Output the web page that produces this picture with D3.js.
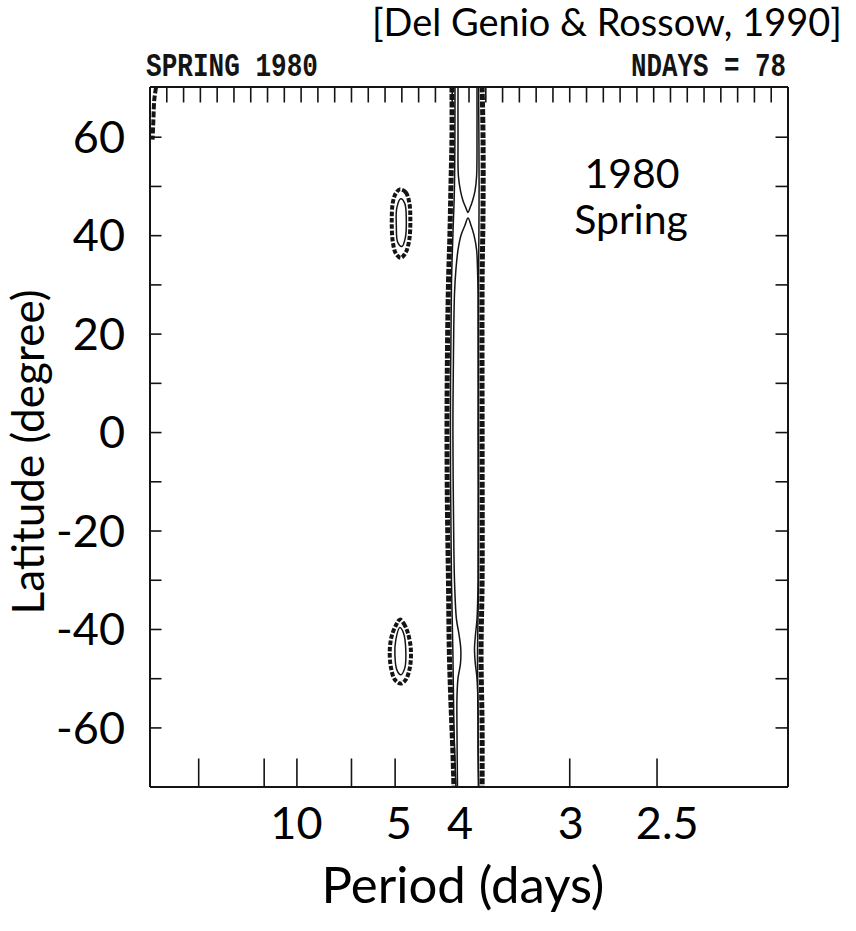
<!DOCTYPE html>
<html>
<head>
<meta charset="utf-8">
<script src="https://cdn.jsdelivr.net/npm/d3@7"></script>
<style>
  html, body { margin: 0; padding: 0; background: #fff; }
  svg { display: block; }
</style>
</head>
<body>
<svg id="chart" width="856" height="931"></svg>
<script>
// ---------------- DATA ----------------
// x axis is frequency (cycles/day); record length 78 days
const nDays = 78;
const freqDomain = [1 / 78, 0.5];
const latDomain = [-72, 70.2];

// small top tick marks: every frequency bin k/78
const binIndex = d3.range(2, 39);
// bottom tick marks (periods, days)
const periodTicks = [20, 10, 8, 6, 5, 3, 2.5];
// big period labels and the periods under which they are written
const periodLabels = ["10", "5", "4", "3", "2.5"];
const periodLabelAt = [8, 4.92, 4.0, 2.99, 2.45];
// latitude ticks
const latTicks = [60, 50, 40, 30, 20, 10, 0, -10, -20, -30, -40, -50, -60];
const latLabels = [60, 40, 20, 0, -20, -40, -60];

// contour lines: [frequency (cycles/day), latitude (deg)]
// outer (dashed) contour of the ~4-day ridge, west and east flanks
const ridgeOuterWest = [[0.2438,70.2],[0.2438,60],[0.2430,50],[0.2422,40],[0.2411,30],[0.2403,15],[0.2400,0],[0.2403,-15],[0.2411,-30],[0.2418,-45],[0.2430,-55],[0.2445,-65],[0.2453,-72]];
const ridgeOuterEast = [[0.2668,70.2],[0.2675,60],[0.2675,45],[0.2668,30],[0.2668,0],[0.2668,-30],[0.2660,-45],[0.2668,-60],[0.2668,-72]];
// second (solid) contour
const ridgeMidWest = [[0.2461,70.2],[0.2457,50],[0.2445,40],[0.2434,30],[0.2426,0],[0.2434,-30],[0.2445,-45],[0.2453,-60],[0.2468,-72]];
const ridgeMidEast = [[0.2641,70.2],[0.2645,50],[0.2641,30],[0.2641,0],[0.2641,-30],[0.2633,-45],[0.2637,-60],[0.2641,-72]];
// innermost contour: northern lobe (open at top) and main lobe (open at bottom)
const ridgeInnerNorth = [[0.2484,70.2],[0.2484,60],[0.2487,52],[0.2503,49],[0.2522,47],[0.2545,45.5],[0.2560,44.6],[0.2575,45.5],[0.2595,47],[0.2614,49],[0.2626,52],[0.2629,60],[0.2629,70.2]];
const ridgeInnerMain = [[0.2480,-72],[0.2476,-60],[0.2476,-54],[0.2484,-50],[0.2503,-47],[0.2505,-44],[0.2491,-41],[0.2472,-38],[0.2457,-30],[0.2449,-15],[0.2445,0],[0.2449,15],[0.2457,28],[0.2468,33],[0.2484,37],[0.2507,40],[0.2537,42],[0.2560,43.5],[0.2583,42],[0.2606,40],[0.2626,37],[0.2633,33],[0.2637,28],[0.2637,0],[0.2637,-30],[0.2629,-38],[0.2618,-41],[0.2610,-44],[0.2616,-47],[0.2629,-50],[0.2637,-55],[0.2637,-65],[0.2641,-72]];
// dashed fragment in the north-west corner
const cornerWest = [[0.0178,70.0],[0.0165,67.6],[0.0158,63.5],[0.0152,59.4]];
// ~5-day closed cells near 43N and 45S
const northCellOuter = [[0.2040,49.3],[0.2085,48.7],[0.2112,46.6],[0.2120,43.2],[0.2112,39.1],[0.2085,36.5],[0.2047,35.4],[0.2009,36.3],[0.1986,38.7],[0.1978,42.8],[0.1986,46.6],[0.2009,48.5]];
const northCellInner = [[0.2047,47.4],[0.2078,46.4],[0.2089,43.2],[0.2082,39.5],[0.2055,37.7],[0.2024,38.5],[0.2013,42.0],[0.2017,45.6]];
const southCellOuter = [[0.2040,-38.1],[0.2070,-38.9],[0.2101,-40.8],[0.2124,-44.2],[0.2116,-47.9],[0.2085,-50.3],[0.2047,-51.1],[0.2002,-50.3],[0.1971,-47.7],[0.1963,-44.2],[0.1978,-41.4],[0.2009,-39.3]];
const southCellInner = [[0.2040,-39.7],[0.2070,-41.0],[0.2085,-44.2],[0.2078,-47.9],[0.2047,-49.3],[0.2017,-48.3],[0.2002,-45.2],[0.2009,-42.2]];

// ---------------- DRAWING ----------------
const svg = d3.select("#chart");
const ink = "#141414";

const x = d3.scaleLinear().domain(freqDomain).range([149.5, 787.5]);
const y = d3.scaleLinear().domain(latDomain).range([786.5, 86.5]);

const g = svg.append("g");

// axes (inward ticks), drawn through the scales
const axTop = g.append("g").attr("transform", `translate(0,${y(latDomain[1])})`)
  .call(d3.axisTop(x).tickValues(binIndex.map(k => k / nDays)).tickSize(-16).tickSizeOuter(0).tickFormat(""));
const axBottom = g.append("g").attr("transform", `translate(0,${y(latDomain[0])})`)
  .call(d3.axisBottom(x).tickValues(periodTicks.map(p => 1 / p)).tickSize(-28).tickSizeOuter(0).tickFormat(""));
const axLeft = g.append("g").attr("transform", `translate(${x(freqDomain[0])},0)`)
  .call(d3.axisLeft(y).tickValues(latTicks).tickSize(-12).tickSizeOuter(0).tickFormat(""));
const axRight = g.append("g").attr("transform", `translate(${x(freqDomain[1])},0)`)
  .call(d3.axisRight(y).tickValues(latTicks).tickSize(-12).tickSizeOuter(0).tickFormat(""));
[axTop, axBottom, axLeft, axRight].forEach(a => {
  a.selectAll("path.domain").attr("stroke", ink).attr("stroke-width", 2);
  a.selectAll(".tick line").attr("stroke", ink).attr("stroke-width", 1.6);
});

// contours
const line = d3.line().x(d => x(d[0])).y(d => y(d[1])).curve(d3.curveCatmullRom.alpha(0.5));
const closed = d3.line().x(d => x(d[0])).y(d => y(d[1])).curve(d3.curveCatmullRomClosed.alpha(0.5));

const dashed = { "stroke-width": 5, "stroke-dasharray": "6,1.6" };
const cellDashed = { "stroke-width": 4, "stroke-dasharray": "4.5,1.8" };
const solid = { "stroke-width": 1.5, "stroke-dasharray": null };

function draw(data, gen, style) {
  const p = g.append("path").attr("d", gen(data)).attr("fill", "none")
    .attr("stroke", ink).attr("stroke-linejoin", "round");
  Object.entries(style).forEach(([k, v]) => { if (v !== null) p.attr(k, v); });
}
draw(ridgeOuterWest, line, dashed);
draw(ridgeOuterEast, line, dashed);
draw(ridgeMidWest, line, solid);
draw(ridgeMidEast, line, solid);
draw(ridgeInnerNorth, line, solid);
draw(ridgeInnerMain, line, solid);
draw(cornerWest, line, { "stroke-width": 4, "stroke-dasharray": "6,2" });
draw(northCellOuter, closed, cellDashed);
draw(northCellInner, closed, solid);
draw(southCellOuter, closed, cellDashed);
draw(southCellInner, closed, solid);

// ---------------- TEXT ----------------
const sans = "Lato, 'Open Sans', sans-serif";
const mono = "'Liberation Mono', 'DejaVu Sans Mono', monospace";

function fitWidth(sel, w) {
  const fs = +sel.attr("font-size");
  const len = sel.node().getComputedTextLength();
  if (len > 0) sel.attr("font-size", fs * w / len);
  return sel;
}

// citation
fitWidth(svg.append("text").attr("x", 372).attr("y", 36).attr("font-family", sans).attr("font-size", 30)
  .attr("fill", "#000").text("[Del Genio & Rossow, 1990]"), 470);

// typewriter header (tall, narrow glyphs)
const hdrL = svg.append("g").attr("transform", "translate(146,76) scale(1,1.3)");
fitWidth(hdrL.append("text").attr("x", 0).attr("y", 0).attr("font-family", mono).attr("font-size", 26)
  .attr("font-weight", "bold").attr("fill", ink).text("SPRING 1980"), 172);
const hdrR = svg.append("g").attr("transform", "translate(786,76) scale(1,1.3)");
fitWidth(hdrR.append("text").attr("x", 0).attr("y", 0).attr("text-anchor", "end").attr("font-family", mono)
  .attr("font-size", 26).attr("font-weight", "bold").attr("fill", ink).text("NDAYS = " + nDays), 155);

// latitude labels
g.selectAll("text.lat").data(latLabels).join("text").attr("class", "lat")
  .attr("x", 125).attr("y", d => y(d)).attr("dy", "0.36em")
  .attr("text-anchor", "end").attr("font-family", sans).attr("font-size", 45).attr("fill", "#000")
  .text(d => d);

// period labels
g.selectAll("text.per").data(periodLabels).join("text").attr("class", "per")
  .attr("x", (d, i) => x(1 / periodLabelAt[i])).attr("y", 839)
  .attr("text-anchor", "middle").attr("font-family", sans).attr("font-size", 45).attr("fill", "#000")
  .text(d => d);

// axis titles
fitWidth(svg.append("text").attr("x", 463).attr("y", 903).attr("text-anchor", "middle")
  .attr("font-family", sans).attr("font-size", 40).attr("fill", "#000").text("Period (days)"), 283);
fitWidth(svg.append("text").attr("transform", "translate(44,452) rotate(-90)").attr("text-anchor", "middle")
  .attr("font-family", sans).attr("font-size", 40).attr("fill", "#000").text("Latitude (degree)"), 325);

// in-panel annotation
svg.append("text").attr("x", 632).attr("y", 188).attr("text-anchor", "middle")
  .attr("font-family", sans).attr("font-size", 41).attr("fill", "#000").text("1980");
svg.append("text").attr("x", 631).attr("y", 234).attr("text-anchor", "middle")
  .attr("font-family", sans).attr("font-size", 41).attr("fill", "#000").text("Spring");
</script>
</body>
</html>
